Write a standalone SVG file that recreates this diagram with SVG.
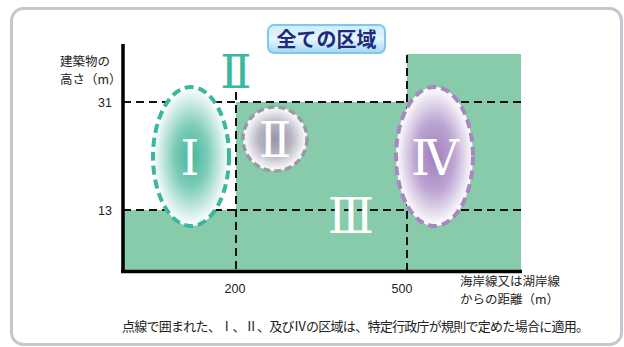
<svg xmlns="http://www.w3.org/2000/svg" width="624" height="347" viewBox="0 0 624 347">
<defs>
<radialGradient id="gI" cx="0.5" cy="0.5" r="0.5"><stop offset="0" stop-color="#3fb79d"/><stop offset="0.45" stop-color="#7fcdb9"/><stop offset="1" stop-color="#ffffff"/></radialGradient>
<radialGradient id="gII" cx="0.5" cy="0.5" r="0.5"><stop offset="0" stop-color="#9696a8"/><stop offset="0.5" stop-color="#b4b4c2"/><stop offset="1" stop-color="#ffffff"/></radialGradient>
<radialGradient id="gIV" cx="0.5" cy="0.5" r="0.5"><stop offset="0" stop-color="#a07fbd"/><stop offset="0.5" stop-color="#bca4d2"/><stop offset="1" stop-color="#ffffff"/></radialGradient>
<linearGradient id="gT" x1="0" y1="0" x2="0" y2="1"><stop offset="0" stop-color="#c9ecfb"/><stop offset="0.5" stop-color="#e6f6fd"/><stop offset="1" stop-color="#9ed8f4"/></linearGradient>
<style>
.jp{font-family:"Noto Sans CJK JP","Noto Sans",sans-serif;fill:#222;font-size:12.5px}
.num{font-family:"Liberation Sans",Arial,sans-serif;fill:#222;font-size:12.5px}
.dash{stroke:#111;stroke-width:2;stroke-dasharray:8 5;fill:none}
.rn{font-family:"DejaVu Serif","Liberation Serif",serif;fill:#fff;text-anchor:middle}
</style>
</defs>
<rect x="11.5" y="8.5" width="610" height="336" rx="12" fill="#fff" stroke="#c6c6d0" stroke-width="3"/>
<g id="title">
<rect x="268" y="25" width="117" height="28" rx="6" fill="url(#gT)" stroke="#7ec8ee" stroke-width="2"/>
<text x="326.5" y="47" text-anchor="middle" style="font-family:'Noto Sans CJK JP',sans-serif;font-weight:bold;font-size:20px;fill:#1f2a7c">全ての区域</text>
</g>
<g id="zone-green">
<path d="M123 210 H236 V102 H407 V54 H521 V271 H123 Z" fill="#88cbab"/>
</g>
<g id="connectors">
<path class="dash" d="M123 102 H521 M123 210 H521 M236 92 V271 M407 55 V271"/>
<path d="M123 44 V273 M121 271.5 H522" stroke="#000" stroke-width="3.5" fill="none"/>
</g>
<g id="axis-labels">
<text class="jp" x="60" y="66">建築物の</text>
<text class="jp" x="60" y="83.5">高さ（m）</text>
<text class="num" x="112" y="107" text-anchor="end">31</text>
<text class="num" x="112" y="215" text-anchor="end">13</text>
<text class="num" x="235" y="293" text-anchor="middle">200</text>
<text class="num" x="402" y="293" text-anchor="middle">500</text>
<text class="jp" x="460" y="286">海岸線又は湖岸線</text>
<text class="jp" x="460" y="303.5">からの距離（m）</text>
</g>
<g id="label-II-top"><text class="rn" x="236" y="88" style="font-size:46px;fill:#3cb8a0">Ⅱ</text></g>
<g id="zone-I">
<ellipse cx="191" cy="156.5" rx="38" ry="69.5" fill="url(#gI)" stroke="#3ab7a0" stroke-width="4" stroke-dasharray="9 5"/>
<text class="rn" x="190" y="175" style="font-size:48px">Ⅰ</text>
</g>
<g id="zone-II">
<circle cx="275" cy="139" r="32" fill="url(#gII)" stroke="#9a98a8" stroke-width="3.5" stroke-dasharray="7 4"/>
<text class="rn" x="275" y="157" style="font-size:48px">Ⅱ</text>
</g>
<g id="zone-III"><text class="rn" x="351" y="233" style="font-size:48px">Ⅲ</text></g>
<g id="zone-IV">
<ellipse cx="434.5" cy="156.5" rx="38.5" ry="69.5" fill="url(#gIV)" stroke="#a886c2" stroke-width="4" stroke-dasharray="9 5"/>
<text class="rn" x="435" y="175" style="font-size:48px">Ⅳ</text>
</g>
<g id="note"><text class="jp" x="122" y="331" textLength="467" lengthAdjust="spacing" style="font-size:13px">点線で囲まれた、Ⅰ、Ⅱ、及びⅣの区域は、特定行政庁が規則で定めた場合に適用。</text></g>
</svg>
